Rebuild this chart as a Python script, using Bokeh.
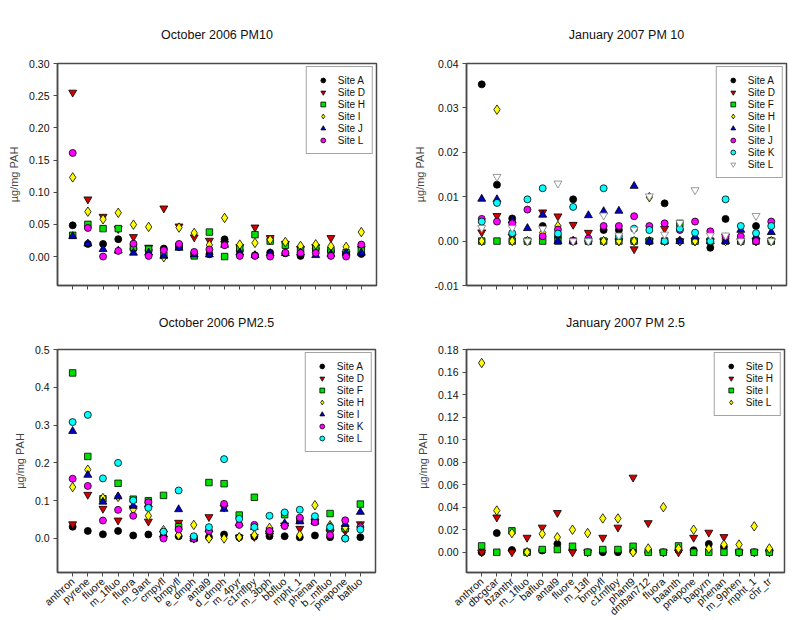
import math
from bokeh.plotting import figure
from bokeh.layouts import gridplot
from bokeh.models import FixedTicker, Legend, LegendItem, Range1d
from bokeh.embed import file_html
from bokeh.resources import INLINE

# ---------------- data ----------------
x_pos = list(range(1, 21))

# October 2006 PM10
oct10_sites = ["Site A", "Site D", "Site H", "Site I", "Site J", "Site L"]
oct10_A = [0.0485, 0.0196, 0.0196, 0.027, 0.012, 0.010, 0.0124, 0.015, 0.0046, 0.0036, 0.0268, 0.0088, 0.002, 0.006, 0.005, 0.001, 0.012, 0.0083, 0.004, 0.004]
oct10_D = [0.255, 0.089, 0.062, 0.043, 0.0305, 0.014, 0.075, 0.047, 0.030, 0.0248, 0.020, 0.015, 0.0454, 0.029, 0.020, 0.012, 0.015, 0.029, 0.004, 0.0124]
oct10_H = [0.033, 0.050, 0.0434, 0.0434, 0.014, 0.0114, 0.002, 0.016, 0.001, 0.038, 0.0, 0.0134, 0.034, 0.024, 0.0176, 0.0114, 0.013, 0.010, 0.006, 0.0088]
oct10_I = [0.123, 0.0697, 0.058, 0.068, 0.0496, 0.046, -0.001, 0.045, 0.0367, 0.018, 0.060, 0.0186, 0.0212, 0.026, 0.0227, 0.0165, 0.019, 0.016, 0.015, 0.038]
oct10_J = [0.0315, 0.020, 0.0114, 0.009, 0.0057, 0.006, 0.001, 0.0134, 0.003, 0.003, 0.018, 0.006, 0.002, 0.005, 0.005, 0.006, 0.002, 0.004, 0.0057, 0.0057]
oct10_L = [0.161, 0.0444, 0.0, 0.0088, 0.020, 0.001, 0.0098, 0.0196, 0.0072, 0.011, 0.0176, 0.001, 0.001, 0.0, 0.006, 0.0057, 0.0057, 0.001, 0.0, 0.0186]
oct10_yticks = [0.0, 0.05, 0.10, 0.15, 0.20, 0.25, 0.30]
oct10_ylabels = ["0.00", "0.05", "0.10", "0.15", "0.20", "0.25", "0.30"]

# January 2007 PM 10
jan10_sites = ["Site A", "Site D", "Site F", "Site H", "Site I", "Site J", "Site K", "Site L"]
jan10_A = [0.0353, 0.0127, 0.0051, 0.0, 0.0034, 0.001, 0.0094, 0.0, 0.0025, 0.0025, 0.0, 0.0, 0.0085, 0.0, 0.0, -0.0015, 0.005, 0.0, 0.0034, 0.0]
jan10_D = [0.002, 0.0057, 0.001, 0.0, 0.0065, 0.0056, 0.0037, 0.0019, 0.0, 0.0, -0.0018, 0.0, 0.0028, 0.0, 0.0, 0.0, 0.001, 0.0, 0.0, 0.0]
jan10_F = [0.0, 0.0, 0.0, 0.0, 0.0, 0.0, 0.0, 0.0, 0.0, 0.0, 0.0, 0.0, 0.0, 0.004, 0.0, 0.0, 0.0, 0.0, 0.0, 0.0]
jan10_H = [0.0, 0.0296, 0.0, 0.0, 0.0019, 0.0034, 0.0, 0.0, 0.0, 0.0, 0.0, 0.0099, 0.0, 0.0, 0.0, 0.0, 0.0, 0.0, 0.0, 0.0]
jan10_I = [0.0095, 0.0094, 0.0047, 0.0029, 0.0059, 0.0, 0.0, 0.0058, 0.0067, 0.0068, 0.0124, 0.0, 0.0, 0.0, 0.001, 0.0, 0.0, 0.0025, 0.001, 0.002]
jan10_J = [0.005, 0.0044, 0.004, 0.0071, 0.0011, 0.0026, 0.0, 0.0006, 0.0034, 0.0034, 0.0056, 0.0034, 0.004, 0.0025, 0.0044, 0.0022, 0.001, 0.0011, 0.0, 0.0044]
jan10_K = [0.0044, 0.0086, 0.0018, 0.0094, 0.0119, 0.0017, 0.0077, 0.0, 0.0119, 0.0011, 0.0028, 0.0025, 0.0, 0.0028, 0.0019, 0.0, 0.0094, 0.0034, 0.0018, 0.0034]
jan10_L = [0.003, 0.0145, 0.003, 0.0, 0.0028, 0.013, 0.0, 0.0, 0.0058, 0.0013, 0.0026, 0.0101, 0.0015, 0.0041, 0.0115, 0.0013, 0.0013, 0.0, 0.0057, 0.0]
jan10_yticks = [-0.01, 0.0, 0.01, 0.02, 0.03, 0.04]
jan10_ylabels = ["-0.01", "0.00", "0.01", "0.02", "0.03", "0.04"]

# October 2006 PM2.5
oct25_cats = ["anthron", "pyrene", "fluore", "m_1fluo", "fluora", "m_9ant", "cmpyfl", "bmpyfl", "e_dmph", "antal9",
              "d_dmph", "m_4pyr", "c1mflpy", "m_3bph", "bbfluo", "mpht_1", "phenan", "b_mfluo", "pnapone", "bafluo"]
oct25_sites = ["Site A", "Site D", "Site F", "Site H", "Site I", "Site K", "Site L"]
oct25_A = [0.031, 0.020, 0.011, 0.020, 0.008, 0.0106, 0.005, 0.006, 0.0, 0.0035, 0.0106, 0.003, 0.005, 0.006, 0.006, 0.003, 0.008, 0.0035, 0.0, 0.0035]
oct25_D = [0.038, 0.116, 0.079, 0.048, 0.080, 0.045, 0.013, 0.042, 0.0, 0.057, 0.082, 0.003, 0.0044, 0.013, 0.035, 0.026, 0.045, 0.015, 0.020, 0.038]
oct25_F = [0.438, 0.217, 0.105, 0.146, 0.104, 0.100, 0.114, 0.031, 0.0, 0.148, 0.145, 0.062, 0.109, 0.020, 0.063, 0.048, 0.045, 0.066, 0.026, 0.091]
oct25_H = [0.136, 0.182, 0.107, 0.110, 0.077, 0.060, 0.022, 0.009, 0.036, 0.0, 0.0, 0.0035, 0.009, 0.028, 0.035, 0.009, 0.088, 0.035, 0.030, 0.031]
oct25_I = [0.284, 0.168, 0.097, 0.111, 0.086, 0.090, 0.010, 0.077, 0.0, 0.024, 0.078, 0.040, 0.030, 0.018, 0.040, 0.045, 0.045, 0.030, 0.038, 0.070]
oct25_K = [0.158, 0.139, 0.0475, 0.0757, 0.060, 0.096, 0.0, 0.024, 0.0, 0.020, 0.0915, 0.036, 0.036, 0.020, 0.033, 0.055, 0.043, 0.009, 0.048, 0.030]
oct25_L = [0.308, 0.327, 0.159, 0.200, 0.101, 0.081, 0.018, 0.127, 0.006, 0.030, 0.210, 0.052, 0.030, 0.060, 0.069, 0.076, 0.059, 0.030, 0.0, 0.024]
oct25_yticks = [0.0, 0.1, 0.2, 0.3, 0.4, 0.5]
oct25_ylabels = ["0.0", "0.1", "0.2", "0.3", "0.4", "0.5"]

# January 2007 PM 2.5
jan25_cats = ["anthron", "dbcgcar", "bzanthr", "m_1fluo", "bafluo", "antal9", "fluore", "m_13fl", "bmpyfl", "c1mflpy",
              "phant9", "dmban712", "fluora", "baanth", "pnapone", "bapyrn", "phenan", "m_9phen", "mpht_1", "chr_tr"]
jan25_sites = ["Site D", "Site H", "Site I", "Site L"]
jan25_D = [0.0, 0.017, 0.002, 0.0, 0.0015, 0.0074, 0.0024, 0.0, 0.0, 0.0, 0.001, 0.0, 0.0, 0.0018, 0.0018, 0.0074, 0.0047, 0.0, 0.0, 0.001]
jan25_H = [0.0, 0.031, 0.0, 0.013, 0.022, 0.035, 0.0, 0.0, 0.013, 0.022, 0.0664, 0.026, 0.0, 0.0, 0.013, 0.0175, 0.0136, 0.0, 0.0, 0.0]
jan25_I = [0.0056, 0.0, 0.019, 0.0, 0.0024, 0.0024, 0.0053, 0.0, 0.0024, 0.0024, 0.0053, 0.0, 0.0, 0.0056, 0.0, 0.0, 0.0, 0.0, 0.0, 0.0]
jan25_L = [0.168, 0.037, 0.017, 0.0, 0.0163, 0.0133, 0.020, 0.017, 0.030, 0.030, 0.0, 0.0033, 0.040, 0.0033, 0.020, 0.0033, 0.0068, 0.0068, 0.023, 0.0033]
jan25_yticks = [0.0, 0.02, 0.04, 0.06, 0.08, 0.10, 0.12, 0.14, 0.16, 0.18]
jan25_ylabels = ["0.00", "0.02", "0.04", "0.06", "0.08", "0.10", "0.12", "0.14", "0.16", "0.18"]

# ---------------- styling ----------------
FONT = "Liberation Sans"
FRAME = "#4a4a4a"
# SigmaPlot-like symbol sequence
SYMBOLS = [
    ("circle", "#000000", "#000000", 7),
    ("inverted_triangle", "#d40000", "#000000", 8),
    ("square", "#00e000", "#000000", 6.5),
    ("diamond", "#ffff00", "#000000", 9.5),
    ("triangle", "#0000c8", "#000000", 8),
    ("circle", "#ff00ff", "#000000", 7),
    ("circle", "#00ffff", "#000000", 7),
    ("inverted_triangle", "#ffffff", "#808080", 8),
]


def make_panel(title, sites, series, yticks, ylabels, y_range, cats, borders, frame_w, frame_h,
               title_standoff, x_end=21):
    left, right, top, bottom = borders
    p = figure(frame_width=frame_w, frame_height=frame_h, output_backend="svg", toolbar_location=None,
               x_range=Range1d(0, x_end), y_range=Range1d(*y_range),
               min_border_left=left, min_border_right=right, min_border_top=top, min_border_bottom=bottom)
    p.background_fill_color = "white"
    p.border_fill_color = "white"
    p.grid.visible = False
    p.outline_line_color = FRAME
    p.outline_line_width = 1.5

    p.title.text = title
    p.title.align = "center"
    p.title.text_font = FONT
    p.title.text_font_size = "12.5px"
    p.title.text_font_style = "normal"
    p.title.text_color = "#111111"
    p.title.standoff = title_standoff

    # axes
    for ax in (p.xaxis[0], p.yaxis[0]):
        ax.axis_line_color = FRAME
        ax.axis_line_width = 1.5
        ax.major_tick_line_color = FRAME
        ax.major_tick_line_width = 1
        ax.major_tick_out = 4
        ax.major_tick_in = 0
        ax.minor_tick_line_color = None
        ax.major_label_text_font = FONT
        ax.major_label_text_font_size = "10.5px"
        ax.major_label_text_color = "#111111"

    p.yaxis[0].ticker = FixedTicker(ticks=yticks)
    p.yaxis[0].major_label_overrides = {t: l for t, l in zip(yticks, ylabels)}
    p.yaxis[0].major_label_standoff = 4
    p.yaxis[0].axis_label = "µg/mg PAH"
    p.yaxis[0].axis_label_text_font = FONT
    p.yaxis[0].axis_label_text_font_size = "11px"
    p.yaxis[0].axis_label_text_font_style = "normal"
    p.yaxis[0].axis_label_standoff = 6

    p.xaxis[0].ticker = FixedTicker(ticks=x_pos)
    if cats is None:
        p.xaxis[0].major_label_overrides = {x: "" for x in x_pos}
        p.xaxis[0].major_label_text_font_size = "0px"
        p.xaxis[0].major_label_standoff = 0
    else:
        p.xaxis[0].major_label_overrides = {x: c for x, c in zip(x_pos, cats)}
        p.xaxis[0].major_label_orientation = math.radians(42)
        p.xaxis[0].major_label_standoff = 3

    items = []
    for i, (name, vals) in enumerate(zip(sites, series)):
        marker, fill, line, size = SYMBOLS[i]
        r = p.scatter(x_pos, vals, marker=marker, size=size, fill_color=fill, line_color=line, line_width=0.8)
        items.append(LegendItem(label=name, renderers=[r]))

    legend = Legend(items=items, location="top_right")
    legend.margin = 3
    legend.padding = 7
    legend.spacing = 0
    legend.glyph_width = 18
    legend.glyph_height = 12
    legend.label_height = 12
    legend.label_standoff = 6
    legend.label_text_font = FONT
    legend.label_text_font_size = "10px"
    legend.label_text_color = "#111111"
    legend.border_line_color = FRAME
    legend.border_line_width = 1.5
    legend.background_fill_alpha = 1
    p.add_layout(legend)
    return p


p1 = make_panel("October 2006 PM10", oct10_sites,
                [oct10_A, oct10_D, oct10_H, oct10_I, oct10_J, oct10_L],
                oct10_yticks, oct10_ylabels, (-0.045, 0.30), None,
                (57, 24, 63, 8), 319, 222, 44)
p2 = make_panel("January 2007 PM 10", jan10_sites,
                [jan10_A, jan10_D, jan10_F, jan10_H, jan10_I, jan10_J, jan10_K, jan10_L],
                jan10_yticks, jan10_ylabels, (-0.01, 0.04), None,
                (62, 18, 63, 8), 320, 222, 44)
p3 = make_panel("October 2006 PM2.5", oct25_sites,
                [oct25_A, oct25_D, oct25_F, oct25_H, oct25_I, oct25_K, oct25_L],
                oct25_yticks, oct25_ylabels, (-0.09, 0.5), oct25_cats,
                (51, 31, 41, 45), 318, 223, 40)
p4 = make_panel("January 2007 PM 2.5", jan25_sites,
                [jan25_D, jan25_H, jan25_I, jan25_L],
                jan25_yticks, jan25_ylabels, (-0.018, 0.18), jan25_cats,
                (66, 16, 41, 45), 318, 223, 40)

grid = gridplot([[p1, p2], [p3, p4]], toolbar_location=None)

html = file_html(grid, INLINE, title="PAH")
open("out.html", "w").write(html)
